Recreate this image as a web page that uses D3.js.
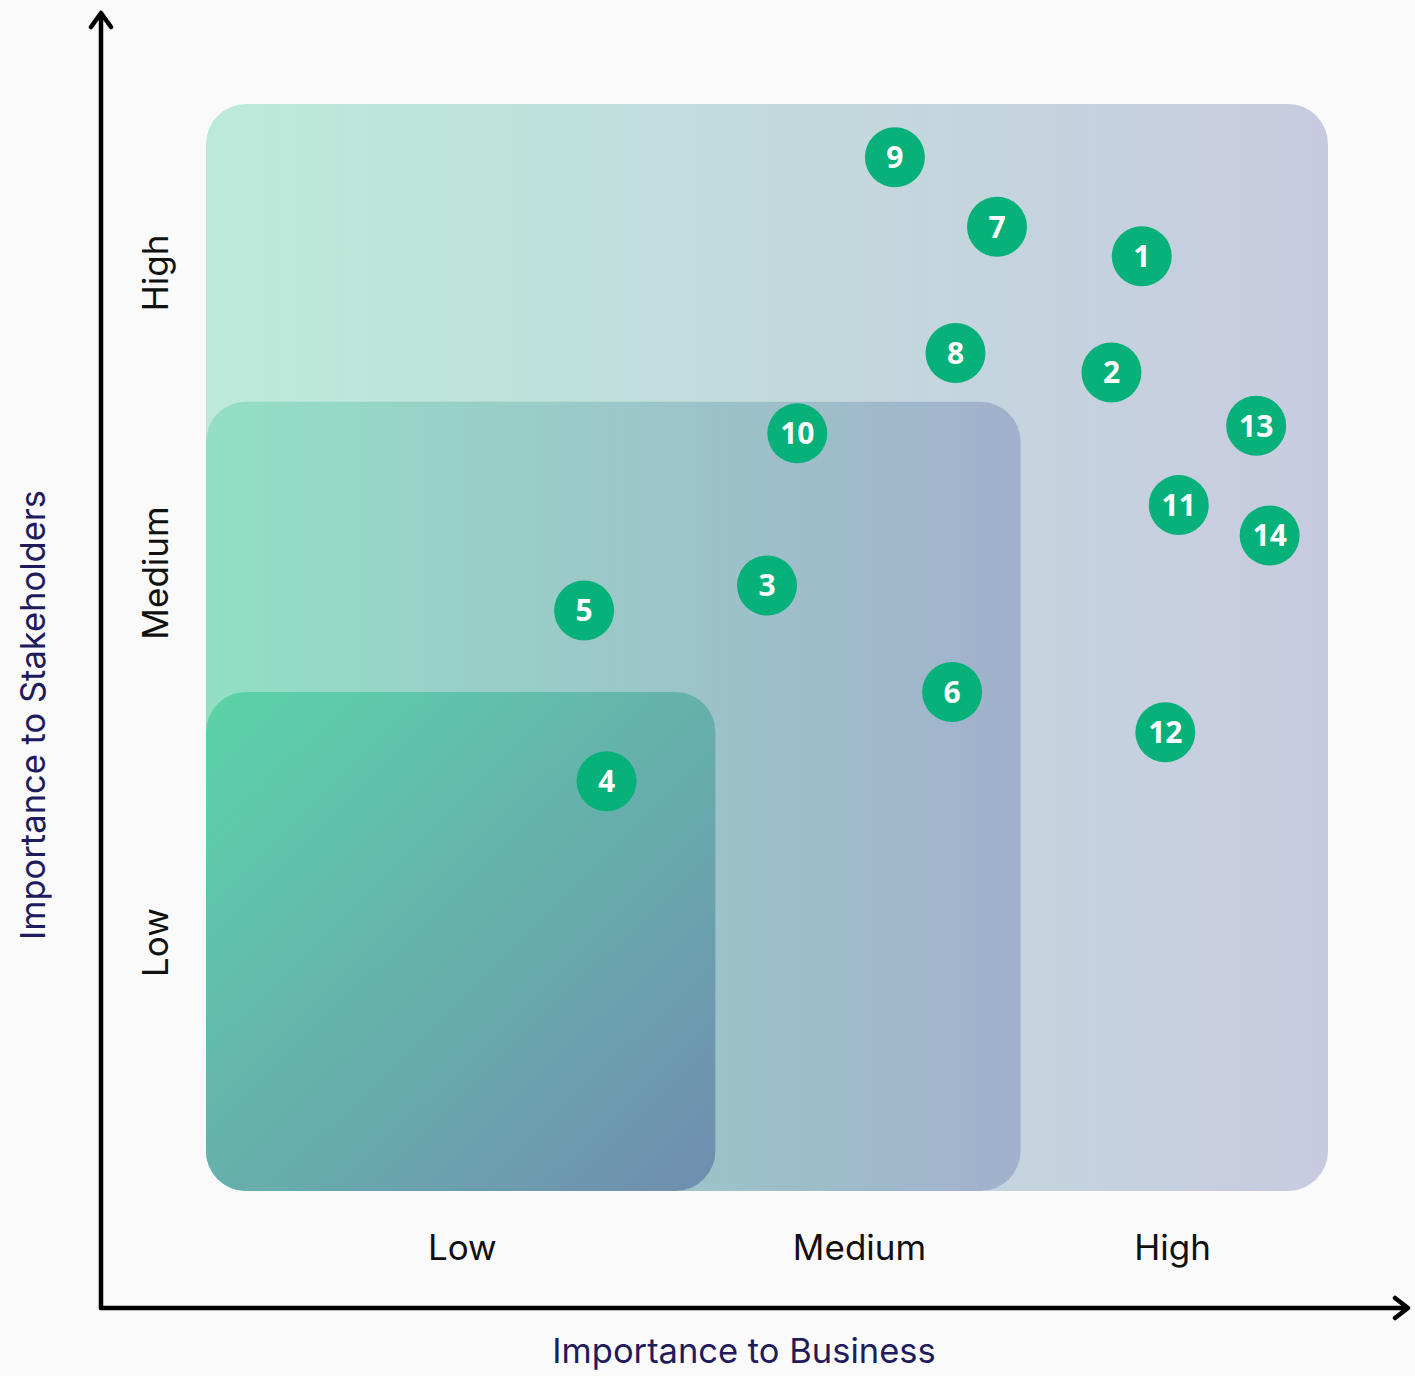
<!DOCTYPE html>
<html lang="en">
<head>
  <meta charset="UTF-8">
  <title>Materiality matrix</title>
  <script src="https://d3js.org/d3.v7.min.js"></script>
  <style>
    body { margin: 0; background: #fafafa; }
    .tick-label { font-family: "Inter", sans-serif; font-size: 35px; fill: #111; }
    .axis-title { font-family: "Inter", sans-serif; font-size: 34.5px; fill: #1f1b5c; }
    .bubble-label { font-family: "Open Sans", sans-serif; font-weight: 700; font-size: 30px; fill: #fff; }
  </style>
</head>
<body>
<div id="chart"></div>
<script>
  // ## Data (score 0-100 on both axes)
  const issueIds     = ["1", "2", "3", "4", "5", "6", "7", "8", "9", "10", "11", "12", "13", "14"];
  const businessVals = [83.4, 80.7, 50.0, 35.7, 33.7, 66.5, 70.5, 66.8, 61.4, 52.7, 86.7, 85.5, 93.6, 94.8];
  const stakeVals    = [86.0, 75.3, 55.7, 37.7, 53.4, 45.9, 88.7, 77.1, 95.1, 69.7, 63.1, 42.2, 70.4, 60.3];

  const levelLabels = ["Low", "Medium", "High"];
  const xTickPos    = [22.8, 58.2, 86.1];
  const yTickPos    = [22.9, 56.9, 84.5];
  const xZoneBreaks = [45.4, 72.6, 100];   // right edge of each zone
  const yZoneBreaks = [45.9, 72.6, 100];   // top edge of each zone

  const dataset = issueIds.map((id, i) => ({ id, x: businessVals[i], y: stakeVals[i] }));

  // ## Dimensions
  const width = 1415, height = 1376;
  const plot = { left: 206, right: 1328, top: 104, bottom: 1191 };

  const svg = d3.select("#chart").append("svg")
      .attr("width", width)
      .attr("height", height);

  svg.append("rect").attr("width", width).attr("height", height).attr("fill", "#fafafa");

  // ## Scales
  const xScale = d3.scaleLinear().domain([0, 100]).range([plot.left, plot.right]);
  const yScale = d3.scaleLinear().domain([0, 100]).range([plot.bottom, plot.top]);

  // ## Gradients
  const defs = svg.append("defs");
  const gradients = [
    { id: "g-low",  x2: "100%", y2: "100%", from: "#5bd4a8", to: "#718db0" },
    { id: "g-med",  x2: "100%", y2: "0%", from: "#93dfc4", to: "#a2b1cc" },
    { id: "g-high", x2: "100%", y2: "0%", from: "#bcead9", to: "#c8cbe0" }
  ];
  gradients.forEach(g => {
    const lg = defs.append("linearGradient")
        .attr("id", g.id)
        .attr("x1", "0%").attr("y1", "0%")
        .attr("x2", g.x2).attr("y2", g.y2);
    lg.append("stop").attr("offset", "0%").attr("stop-color", g.from);
    lg.append("stop").attr("offset", "100%").attr("stop-color", g.to);
  });

  // ## Zones (largest first)
  const zones = xZoneBreaks.map((b, i) => ({ xEdge: b, yEdge: yZoneBreaks[i], grad: gradients[i].id })).reverse();
  svg.selectAll(".zone")
    .data(zones)
    .enter()
    .append("rect")
      .attr("class", "zone")
      .attr("x", xScale(0))
      .attr("y", d => yScale(d.yEdge))
      .attr("width", d => xScale(d.xEdge) - xScale(0))
      .attr("height", d => yScale(0) - yScale(d.yEdge))
      .attr("rx", 40)
      .attr("fill", d => `url(#${d.grad})`);

  // ## Axes (labels only, via d3 axes)
  const xAxis = svg.append("g")
      .attr("transform", `translate(0, 1215)`)
      .call(d3.axisBottom(xScale)
        .tickValues(xTickPos)
        .tickSize(0)
        .tickFormat((d, i) => levelLabels[i]))
      .call(g => g.select(".domain").remove());
  xAxis.selectAll("text")
      .attr("class", "tick-label")
      .attr("y", 45)
      .attr("dy", 0)
      .attr("font-family", null).attr("font-size", null).attr("fill", null);

  const yAxis = svg.append("g")
      .attr("transform", `translate(168, 0)`)
      .call(d3.axisLeft(yScale)
        .tickValues(yTickPos)
        .tickSize(0)
        .tickFormat((d, i) => levelLabels[i]))
      .call(g => g.select(".domain").remove());
  yAxis.selectAll("text")
      .attr("class", "tick-label")
      .attr("x", 0).attr("dy", 0)
      .attr("transform", "rotate(-90)")
      .style("text-anchor", "middle")
      .attr("font-family", null).attr("font-size", null).attr("fill", null);

  // -- arrow lines
  const arrowStyle = sel => sel
      .attr("fill", "none")
      .attr("stroke", "#000")
      .attr("stroke-width", 4.5)
      .attr("stroke-linecap", "round")
      .attr("stroke-linejoin", "round");

  svg.append("path")
      .attr("d", "M101,1308 L101,14 M91,27 L101,13 L111,27")
      .call(arrowStyle);
  svg.append("path")
      .attr("d", "M101,1308 L1406,1308 M1395,1298 L1408,1308 L1395,1318")
      .call(arrowStyle);

  // -- axis titles
  svg.append("text")
      .attr("class", "axis-title")
      .attr("x", 744)
      .attr("y", 1363)
      .attr("text-anchor", "middle")
      .text("Importance to Business");

  svg.append("text")
      .attr("class", "axis-title")
      .attr("transform", "translate(45, 715) rotate(-90)")
      .attr("text-anchor", "middle")
      .text("Importance to Stakeholders");

  // ## Bubbles
  const bubbles = svg.selectAll(".bubble")
    .data(dataset)
    .enter()
    .append("g")
      .attr("class", "bubble")
      .attr("transform", d => `translate(${xScale(d.x)}, ${yScale(d.y)})`);

  bubbles.append("circle")
      .attr("r", 30)
      .attr("fill", "#08b07a");

  bubbles.append("text")
      .attr("class", "bubble-label")
      .attr("text-anchor", "middle")
      .attr("dy", "0.36em")
      .text(d => d.id);
</script>
</body>
</html>
